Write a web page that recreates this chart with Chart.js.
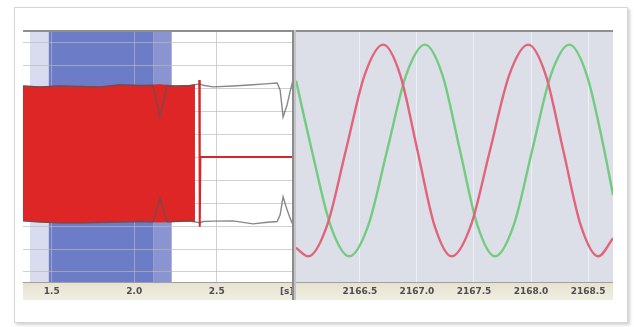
<!DOCTYPE html>
<html>
<head>
<meta charset="utf-8">
<script src="https://cdn.jsdelivr.net/npm/chart.js@4.4.0/dist/chart.umd.min.js"></script>
<style>
  body { margin: 0; background: #fff; width: 635px; height: 327px; overflow: hidden; position: relative; }
  #card { position: absolute; left: 14px; top: 7px; width: 612px; height: 314px; border: 1px solid #d6d6d6; background: #fff; box-shadow: 2px 2px 3px rgba(0,0,0,0.18); }
  .panel { position: absolute; top: 30px; height: 271px; }
  #left { left: 23px; width: 270px; }
  #right { left: 296px; width: 317px; }
  #sep { position: absolute; left: 292px; top: 30px; width: 4px; height: 270px; background: linear-gradient(to right, #8c8c8c 0, #8c8c8c 2px, #c4c4c8 2px, #c4c4c8 4px); }
</style>
</head>
<body>
<div id="card"></div>
<div class="panel" id="left"><canvas id="cLeft" width="270" height="271"></canvas></div>
<div class="panel" id="right"><canvas id="cRight" width="317" height="271"></canvas></div>
<div id="sep"></div>
<script>
// left panel: time in seconds
const leftTickValues = [1.5, 2.0, 2.5, 2.924];
const leftTickLabels = ["1.5", "2.0", "2.5", "[s]"];
const leftGridValues = [-5, -4, -3, -2, -1, 0, 1, 2, 3, 4, 5];

// highlighted intervals (start, end)
const bandStart = [1.368, 1.482, 2.118];
const bandEnd = [1.482, 2.118, 2.227];

// dense red signal, drawn as its envelope
const redEdgeX = [1.326, 1.429, 1.550, 1.672, 1.793, 1.914, 2.035, 2.156, 2.247, 2.338, 2.368];
const redTopY = [3.12, 3.08, 3.12, 3.10, 3.08, 3.17, 3.14, 3.17, 3.12, 3.14, 3.17];
const redBottomY = [-2.77, -2.82, -2.86, -2.86, -2.84, -2.82, -2.80, -2.82, -2.80, -2.78, -2.80];

const redTailX = [2.394, 2.397, 2.401, 2.962];
const redTailY = [3.38, -3.03, 0.02, 0.02];

// gray envelope
const envX = [1.326, 1.429, 1.550, 1.672, 1.793, 1.914, 2.035, 2.114, 2.156, 2.199, 2.247, 2.338, 2.399, 2.417, 2.478, 2.599, 2.720, 2.793, 2.866, 2.884, 2.902, 2.926, 2.944, 2.962];
const envTopY = [3.12, 3.08, 3.12, 3.10, 3.08, 3.17, 3.14, 3.14, 1.77, 3.14, 3.12, 3.14, 3.21, 3.15, 3.08, 3.12, 3.17, 3.21, 3.25, 2.95, 1.77, 2.29, 2.86, 3.38];
const envBottomY = [-2.77, -2.82, -2.86, -2.86, -2.84, -2.82, -2.80, -2.82, -1.77, -2.82, -2.80, -2.78, -2.85, -2.80, -2.78, -2.77, -2.90, -2.84, -2.80, -2.51, -1.72, -2.29, -2.64, -2.95];

// right panel
const rightTickValues = [2166.5, 2167.0, 2167.5, 2168.0, 2168.5];
const rightTickLabels = ["2166.5", "2167.0", "2167.5", "2168.0", "2168.5"];

const redSineX = [2165.939, 2166.047, 2166.211, 2166.376, 2166.540, 2166.704, 2166.854, 2167.004, 2167.154, 2167.304, 2167.472, 2167.640, 2167.808, 2167.976, 2168.130, 2168.283, 2168.437, 2168.590, 2168.719];
const redSineY = [-0.92, -1.0, -0.71, 0.0, 0.71, 1.0, 0.71, 0.0, -0.71, -1.0, -0.71, 0.0, 0.71, 1.0, 0.71, 0.0, -0.71, -1.0, -0.83];

const greenSineX = [2165.939, 2166.078, 2166.242, 2166.406, 2166.572, 2166.738, 2166.904, 2167.070, 2167.224, 2167.377, 2167.531, 2167.684, 2167.847, 2168.010, 2168.173, 2168.336, 2168.490, 2168.643, 2168.719];
const greenSineY = [0.66, 0.0, -0.71, -1.0, -0.71, 0.0, 0.71, 1.0, 0.71, 0.0, -0.71, -1.0, -0.71, 0.0, 0.71, 1.0, 0.71, 0.0, -0.42];

const pts = (xs, ys) => xs.map((x, i) => ({ x: x, y: ys[i] }));

const panelPaint = {
  id: "panelPaint",
  beforeDraw(chart, args, opts) {
    const ctx = chart.ctx;
    const a = chart.chartArea;
    const xs = chart.scales.x;
    ctx.save();
    ctx.fillStyle = opts.bg;
    ctx.fillRect(a.left, a.top, a.right - a.left, a.bottom - a.top);
    (opts.bands || []).forEach((b, i) => {
      const x0 = xs.getPixelForValue(b[0]);
      const x1 = xs.getPixelForValue(b[1]);
      ctx.fillStyle = opts.bandColors[i];
      ctx.fillRect(x0, a.top, x1 - x0, a.bottom - a.top);
    });
    const g = ctx.createLinearGradient(0, a.bottom, 0, a.bottom + 18);
    g.addColorStop(0, "#e6e2cf");
    g.addColorStop(1, "#f0eee3");
    ctx.fillStyle = g;
    ctx.fillRect(a.left, a.bottom, a.right - a.left, 18);
    ctx.restore();
  },
  afterDraw(chart) {
    const ctx = chart.ctx;
    const a = chart.chartArea;
    ctx.save();
    ctx.strokeStyle = "#8f8f8f";
    ctx.lineWidth = 2;
    ctx.beginPath();
    ctx.moveTo(a.left, a.top);
    ctx.lineTo(a.right, a.top);
    ctx.stroke();
    ctx.restore();
  }
};

const tickFont = { family: "DejaVu Sans", size: 9, weight: "bold" };
const red = "rgb(222,38,38)";

// keep the x axis exactly as wide as the canvas
const fitX = (s) => {
  s.height = 19;
  s.paddingLeft = 0;
  s.paddingRight = 0;
};

new Chart(document.getElementById("cLeft"), {
  type: "line",
  plugins: [panelPaint],
  data: {
    datasets: [
      { data: pts(envX, envTopY), borderColor: "rgba(85,85,85,0.7)", borderWidth: 1.4, order: 0 },
      { data: pts(envX, envBottomY), borderColor: "rgba(85,85,85,0.7)", borderWidth: 1.4, order: 0 },
      { data: pts(redTailX, redTailY), borderColor: "rgb(212,40,40)", borderWidth: 2, order: 1 },
      { data: pts(redEdgeX, redTopY), borderColor: red, backgroundColor: red, borderWidth: 1, fill: "+1", order: 2 },
      { data: pts(redEdgeX, redBottomY), borderColor: red, borderWidth: 1, order: 2 }
    ]
  },
  options: {
    animation: false,
    responsive: false,
    layout: { padding: { top: 1, left: 0, right: 0, bottom: 0 } },
    elements: { line: { tension: 0 }, point: { radius: 0 } },
    plugins: {
      legend: { display: false },
      tooltip: { enabled: false },
      panelPaint: {
        bg: "#ffffff",
        bands: bandStart.map((s, i) => [s, bandEnd[i]]),
        bandColors: ["#d9dcee", "#6d7cc7", "#8994d0"]
      }
    },
    scales: {
      x: {
        type: "linear",
        min: 1.326,
        max: 2.962,
        afterBuildTicks: (s) => { s.ticks = leftTickValues.map((v) => ({ value: v })); },
        afterFit: fitX,
        ticks: {
          autoSkip: false, maxRotation: 0, padding: 4, color: "#4d4d4d", font: tickFont,
          callback: (v, i) => leftTickLabels[i]
        },
        grid: {
          drawTicks: false,
          color: (c) => (c.index === 3 ? "rgba(0,0,0,0)" : "rgba(185,185,190,0.65)")
        },
        border: { color: "#a0a0a0" }
      },
      y: {
        type: "linear",
        min: -5.44,
        max: 5.52,
        afterBuildTicks: (s) => { s.ticks = leftGridValues.map((v) => ({ value: v })); },
        afterFit: (s) => { s.width = 0; },
        ticks: { display: false },
        grid: { drawTicks: false, color: "rgba(185,185,190,0.65)" },
        border: { display: false }
      }
    }
  }
});

new Chart(document.getElementById("cRight"), {
  type: "line",
  plugins: [panelPaint],
  data: {
    datasets: [
      { data: pts(redSineX, redSineY), borderColor: "#e0657b", borderWidth: 2.4, cubicInterpolationMode: "monotone" },
      { data: pts(greenSineX, greenSineY), borderColor: "#72cc80", borderWidth: 2.4, cubicInterpolationMode: "monotone" }
    ]
  },
  options: {
    animation: false,
    responsive: false,
    layout: { padding: { top: 1, left: 0, right: 0, bottom: 0 } },
    elements: { point: { radius: 0 } },
    plugins: {
      legend: { display: false },
      tooltip: { enabled: false },
      panelPaint: { bg: "#dcdee8" }
    },
    scales: {
      x: {
        type: "linear",
        min: 2165.939,
        max: 2168.719,
        afterBuildTicks: (s) => { s.ticks = rightTickValues.map((v) => ({ value: v })); },
        afterFit: fitX,
        ticks: {
          autoSkip: false, maxRotation: 0, padding: 4, color: "#4d4d4d", font: tickFont,
          callback: (v, i) => rightTickLabels[i]
        },
        grid: { drawTicks: false, color: "rgba(242,243,248,0.85)" },
        border: { color: "#a0a0a0" }
      },
      y: { type: "linear", min: -1.243, max: 1.129, display: false }
    }
  }
});
</script>
</body>
</html>
